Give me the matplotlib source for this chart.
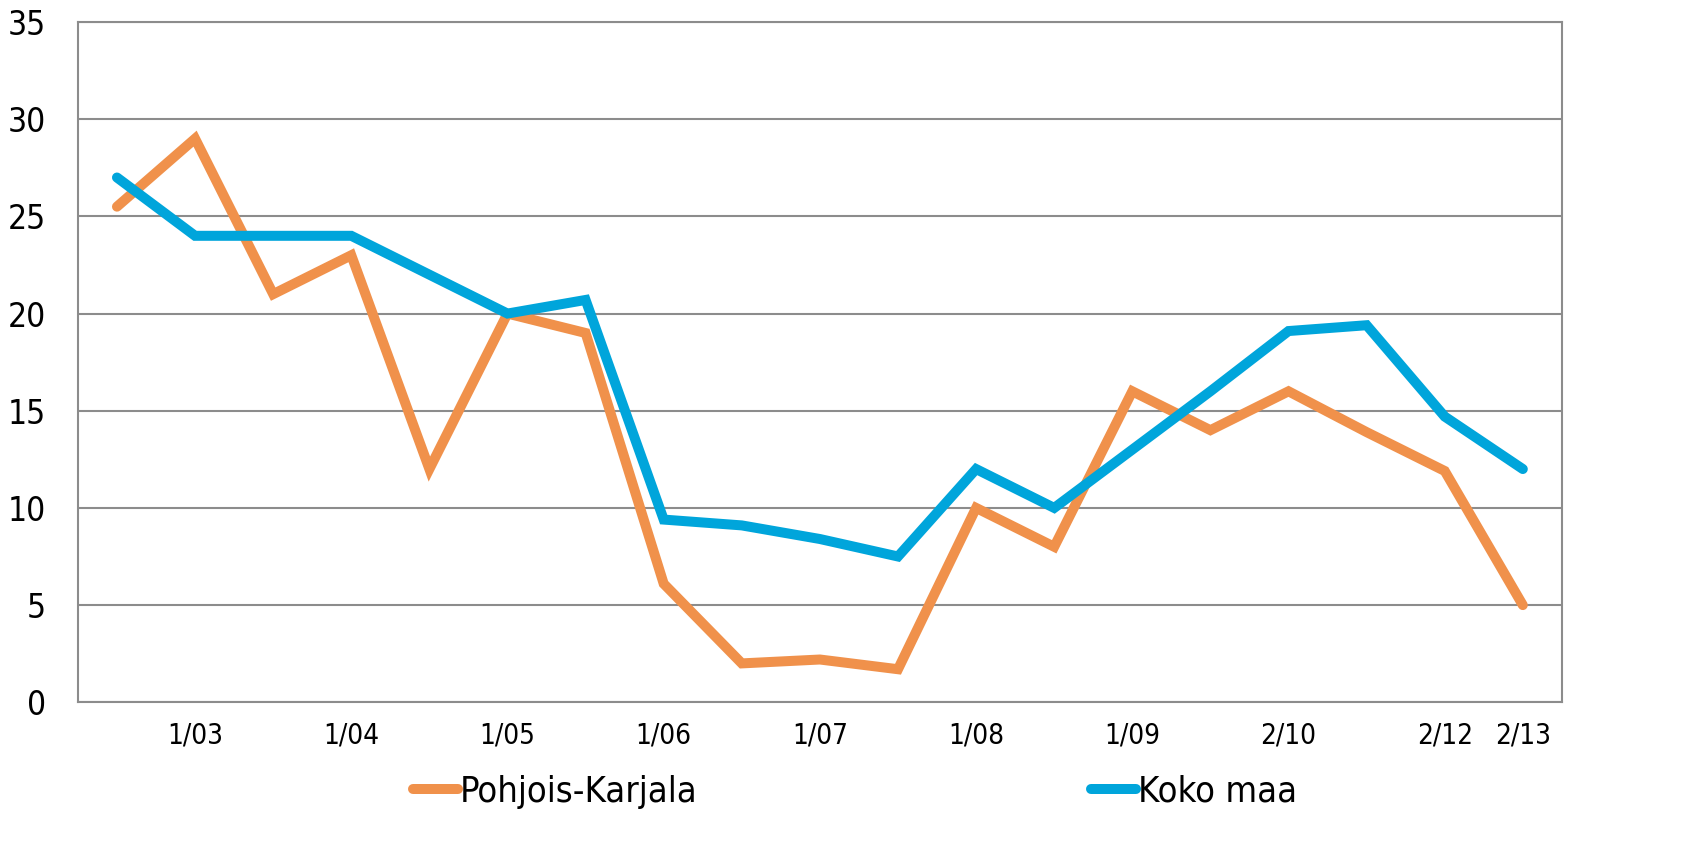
import matplotlib
matplotlib.use('Agg')
import matplotlib.pyplot as plt

# data
periods = ['', '1/03', '', '1/04', '', '1/05', '', '1/06', '', '1/07', '',
           '1/08', '', '1/09', '', '2/10', '', '2/12', '2/13']
pohjois_karjala = [25.5, 29, 21, 23, 12, 20, 19, 6.1, 2.0, 2.2, 1.7,
                   10, 8, 16, 14, 16, 13.9, 11.9, 5]
koko_maa = [27, 24, 24, 24, 22, 20, 20.7, 9.4, 9.1, 8.4, 7.5,
            12, 10, 13, 16, 19.1, 19.4, 14.7, 12]

plt.rcParams['font.family'] = ['DejaVu Sans']
plt.rcParams['font.stretch'] = 'condensed'

fig = plt.figure(figsize=(16.94, 8.67), dpi=100)
ax = fig.add_axes([0.046, 0.19, 0.876, 0.7846])

x = list(range(len(periods)))
ax.plot(x, pohjois_karjala, color='#F0914B', lw=7.2, solid_joinstyle='miter',
        solid_capstyle='round', label='Pohjois-Karjala')
ax.plot(x, koko_maa, color='#00A5DB', lw=7.2, solid_joinstyle='miter',
        solid_capstyle='round', label='Koko maa')

ax.set_xlim(-0.5, len(periods) - 0.5)
ax.set_ylim(0, 35)
ax.set_yticks(range(0, 36, 5))
ax.set_xticks(x)
ax.set_xticklabels(periods, fontsize=20)
ax.tick_params(axis='y', labelsize=24, length=0, pad=23)
ax.tick_params(axis='x', length=0, pad=14)
ax.grid(axis='y', color='#8c8c8c', lw=1.5)
ax.set_axisbelow(True)
for s in ax.spines.values():
    s.set_color('#8c8c8c')
    s.set_linewidth(1.5)

ax.legend(loc='upper left', bbox_to_anchor=(0.216, -0.085), ncol=2, frameon=False,
          fontsize=26, handlelength=1.25, handletextpad=0.05, columnspacing=10.9,
          borderaxespad=0)

fig.savefig('out.png', dpi=100)
